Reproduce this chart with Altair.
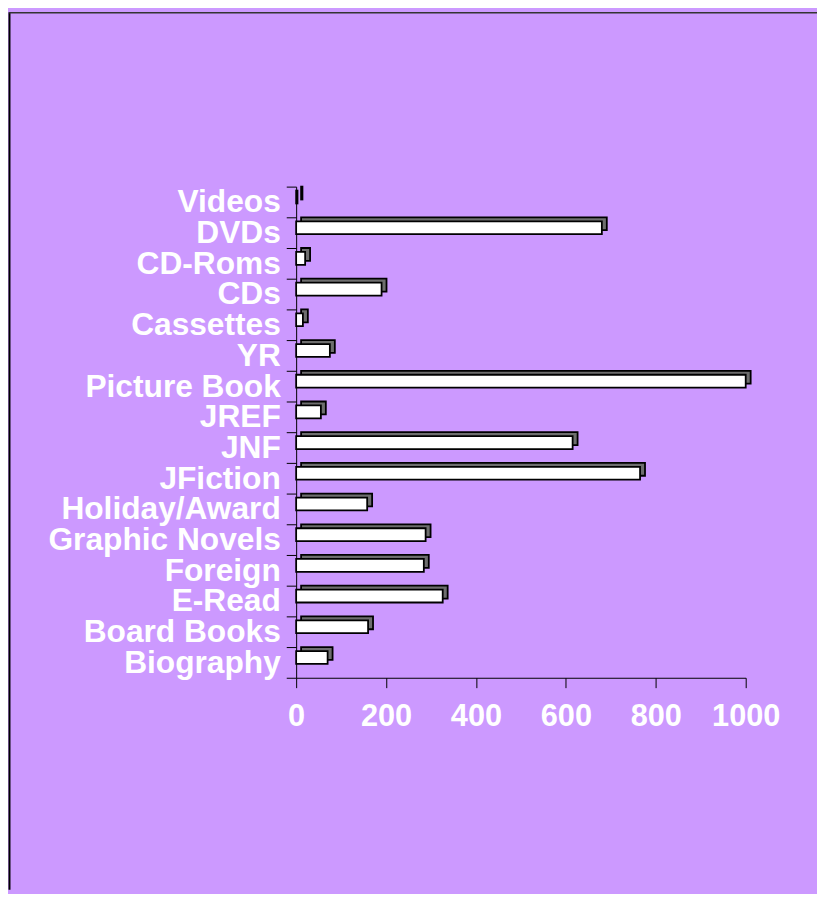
import altair as alt
import pandas as pd

categories = ["Videos", "DVDs", "CD-Roms", "CDs", "Cassettes", "YR", "Picture Book",
              "JREF", "JNF", "JFiction", "Holiday/Award", "Graphic Novels", "Foreign",
              "E-Read", "Board Books", "Biography"]
values = [3, 680, 20, 190, 15, 75, 1000, 55, 615, 765, 158, 288, 284, 326, 160, 70]
x_ticks = [0, 200, 400, 600, 800, 1000]

df = pd.DataFrame({"category": categories, "value": values})

W, H = 454, 496
PAD = {"left": 291, "top": 176, "right": 72, "bottom": 214}

y_enc = alt.Y("category:N", sort=categories, title=None,
              scale=alt.Scale(paddingInner=0, paddingOuter=0),
              axis=alt.Axis(tickBand="extent", tickSize=10, labelPadding=6,
                            labelFont="Liberation Sans", labelFontSize=32,
                            labelFontWeight="bold", labelColor="white",
                            labelLimit=0,
                            domainColor="black", tickColor="black",
                            labelBaseline="middle"))
x_enc = alt.X("value:Q", title=None,
              scale=alt.Scale(domain=[0, 1000], nice=False),
              axis=alt.Axis(values=x_ticks, tickSize=10, labelPadding=14,
                            format="d",
                            labelFont="Liberation Sans", labelFontSize=31,
                            labelFontWeight="bold", labelColor="white",
                            domainColor="black", tickColor="black", grid=False,
                            labelFlush=False))

base = alt.Chart(df)
back = base.mark_bar(size=13, xOffset=5, yOffset=-9, fill="#6e6e6e",
                     stroke="black", strokeWidth=1.8, clip=False).encode(y=y_enc, x=x_enc)
front = base.mark_bar(size=13, yOffset=-5, fill="white",
                      stroke="black", strokeWidth=1.8, clip=False).encode(y=y_enc, x=x_enc)

one = alt.Chart(pd.DataFrame({"a": [0]}))
left_border = one.mark_rule(color="black", strokeWidth=2).encode(
    x=alt.value(-PAD["left"] + 1.5), y=alt.value(-PAD["top"]), y2=alt.value(H + PAD["bottom"]))
top_border = one.mark_rule(color="#333333", strokeWidth=1.5).encode(
    y=alt.value(-PAD["top"] + 0.5), x=alt.value(-PAD["left"] + 1), x2=alt.value(W + PAD["right"]))

chart = alt.layer(back, front, left_border, top_border).properties(
    width=W, height=H,
    autosize=alt.AutoSizeParams(type="none"),
    padding=PAD,
    background="#CC99FF",
).configure_view(stroke=None)

chart.save("out.html", embed_options={"renderer": "svg", "actions": False})
